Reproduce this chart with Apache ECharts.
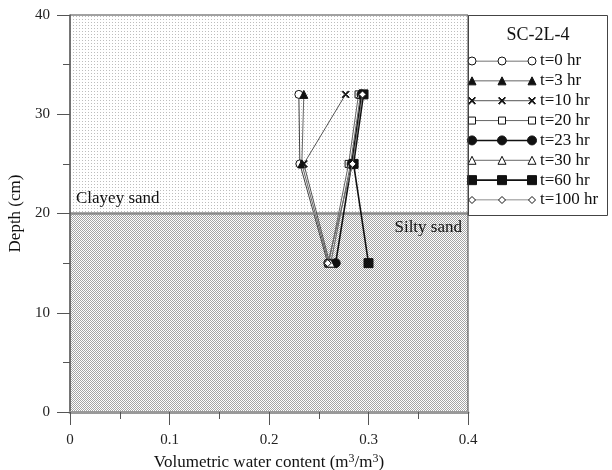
<!DOCTYPE html>
<html>
<head>
<meta charset="utf-8">
<script src="https://cdn.jsdelivr.net/npm/echarts@6/dist/echarts.min.js"></script>
<style>
html,body{margin:0;padding:0;background:#fff;}
#main{width:612px;height:470px;}
</style>
</head>
<body>
<div id="main"></div>
<script>
// 深度 (cm) 与各时刻含水量
var depth = [32, 25, 15];
var hours = ['t=0 hr', 't=3 hr', 't=10 hr', 't=20 hr', 't=23 hr', 't=30 hr', 't=60 hr', 't=100 hr'];
var wc_0   = [0.230, 0.231, 0.259];
var wc_3   = [0.235, 0.233, 0.260];
var wc_10  = [0.277, 0.235, 0.261];
var wc_20  = [0.290, 0.280, 0.260];
var wc_23  = [0.293, 0.283, 0.267];
var wc_30  = [0.292, 0.282, 0.262];
var wc_60  = [0.295, 0.285, 0.300];
var wc_100 = [0.294, 0.284, 0.259];
var wcAll = [wc_0, wc_3, wc_10, wc_20, wc_23, wc_30, wc_60, wc_100];

// 土层
var layerName = ['Clayey sand', 'Silty sand'];
var layerTop = [40, 20];
var layerBottom = [20, 0];

// 坐标范围
var xMin = 0, xMax = 0.4;
var yMin = 0, yMax = 40;

var sampleTitle = 'SC-2L-4';
var serif = '"Liberation Serif", "DejaVu Serif", serif';
var crossPath = 'path://M0,1 L1,0 L5,4 L9,0 L10,1 L6,5 L10,9 L9,10 L5,6 L1,10 L0,9 L4,5 Z';

// 符号样式
var marks = [
    {symbol: 'circle',   size: 8, fill: '#fff', line: '#444', lw: 1},
    {symbol: 'triangle', size: 8, fill: '#111', line: '#666', lw: 1},
    {symbol: crossPath,  size: 7, fill: '#111', line: '#555', lw: 1},
    {symbol: 'rect',     size: 7, fill: '#fff', line: '#666', lw: 1},
    {symbol: 'circle',   size: 9, fill: '#111', line: '#111', lw: 1.6},
    {symbol: 'triangle', size: 8, fill: '#fff', line: '#666', lw: 1},
    {symbol: 'rect',     size: 9, fill: '#111', line: '#111', lw: 1.6},
    {symbol: 'diamond',  size: 7, fill: '#fff', line: '#666', lw: 1}
];

function dotPattern(size, dots, color){
    var c = document.createElement('canvas');
    c.width = size; c.height = size;
    var g = c.getContext('2d');
    g.fillStyle = '#fff';
    g.fillRect(0, 0, size, size);
    g.fillStyle = color;
    for(var i=0;i<dots.length;i++){
        g.fillRect(dots[i][0], dots[i][1], 1, 1);
    }
    return c;
}
var patterns = [
    {image: dotPattern(3, [[1,1]], '#bdbdbd'), repeat: 'repeat'},
    {image: dotPattern(2, [[0,0],[1,1]], '#a5a5a5'), repeat: 'repeat'}
];

var seriesArr = [];
for(var i=0;i<hours.length;i++){
    var pts = [];
    for(var k=0;k<depth.length;k++){
        pts.push([wcAll[i][k], depth[k]]);
    }
    var m = marks[i];
    var s = {
        name: hours[i],
        type: 'line',
        xAxisIndex: 0,
        yAxisIndex: 0,
        data: pts,
        symbol: m.symbol,
        symbolSize: m.size,
        showAllSymbol: true,
        z: 3 + i,
        lineStyle: {color: m.line, width: m.lw},
        itemStyle: {color: m.fill, borderColor: '#111', borderWidth: 1}
    };
    if(i === 0){
        var areas = [];
        for(var j=0;j<layerName.length;j++){
            areas.push([
                {name: layerName[j], xAxis: xMin, yAxis: layerTop[j],
                 itemStyle: {color: patterns[j]},
                 label: {show: true, position: j === 0 ? 'insideBottomLeft' : 'insideTopRight',
                         color: '#111', fontFamily: serif, fontSize: 17, distance: 6}},
                {xAxis: xMax, yAxis: layerBottom[j]}
            ]);
        }
        s.markArea = {
            silent: true,
            z: 1,
            itemStyle: {opacity: 1},
            label: {show: true, formatter: '{b}'},
            data: areas
        };
        s.markLine = {
            silent: true,
            symbol: 'none',
            label: {show: false},
            lineStyle: {color: '#8a8a8a', width: 2.5, type: 'solid'},
            data: [{yAxis: layerBottom[0]}]
        };
    }
    seriesArr.push(s);
}

// 图例样本
for(var i=0;i<hours.length;i++){
    var m = marks[i];
    seriesArr.push({
        type: 'line',
        xAxisIndex: 1,
        yAxisIndex: 1,
        data: [[0, i], [1, i], [2, i]],
        symbol: m.symbol,
        symbolSize: m.size,
        lineStyle: {color: m.line, width: m.lw},
        itemStyle: {color: m.fill, borderColor: '#111', borderWidth: 1}
    });
}

var chart = echarts.init(document.getElementById('main'));
chart.setOption({
    animation: false,
    backgroundColor: '#fff',
    textStyle: {fontFamily: serif},
    grid: [
        {left: 70, top: 15, width: 398, height: 397, show: true, z: 10,
         outerBoundsMode: 'none', containLabel: false,
         borderColor: '#444', borderWidth: 1, backgroundColor: 'transparent'},
        {left: 472, top: 61, width: 60, height: 139, outerBoundsMode: 'none', containLabel: false}
    ],
    xAxis: [
        {
            type: 'value', gridIndex: 0, min: xMin, max: xMax, interval: 0.1, z: 10,
            name: 'Volumetric water content (m{sup|3}/m{sup|3})',
            nameLocation: 'middle', nameGap: 38,
            nameTextStyle: {
                color: '#111', fontSize: 17, fontFamily: serif,
                rich: {sup: {fontSize: 12, fontFamily: serif, color: '#111', padding: [0, 0, 7, 0]}}
            },
            axisLine: {show: true, lineStyle: {color: '#999', width: 3}},
            axisTick: {show: true, inside: false, length: 13, lineStyle: {color: '#555'}},
            minorTick: {show: true, splitNumber: 2, length: 7, lineStyle: {color: '#555'}},
            splitLine: {show: false},
            axisLabel: {color: '#222', fontSize: 15, fontFamily: serif, margin: 21}
        },
        {type: 'value', gridIndex: 1, min: 0, max: 2, show: false}
    ],
    yAxis: [
        {
            type: 'value', gridIndex: 0, min: yMin, max: yMax, interval: 10, z: 10,
            name: 'Depth (cm)',
            nameLocation: 'middle', nameGap: 31, nameRotate: 90,
            nameTextStyle: {color: '#111', fontSize: 17, fontFamily: serif},
            axisLine: {show: true, lineStyle: {color: '#666', width: 1.5}},
            axisTick: {show: true, inside: false, length: 13, lineStyle: {color: '#555'}},
            minorTick: {show: true, splitNumber: 2, length: 7, lineStyle: {color: '#555'}},
            splitLine: {show: false},
            axisLabel: {color: '#222', fontSize: 15, fontFamily: serif, margin: 20}
        },
        {
            type: 'category', gridIndex: 1, data: hours, inverse: true, boundaryGap: false,
            position: 'right',
            axisLine: {show: false}, axisTick: {show: false}, splitLine: {show: false},
            axisLabel: {interval: 0, color: '#111', fontSize: 17, fontFamily: serif, margin: 8, align: 'left'}
        }
    ],
    graphic: [
        {type: 'rect', z: -1, shape: {x: 468.5, y: 15.5, width: 139, height: 200},
         style: {fill: '#fff', stroke: '#444', lineWidth: 1}},
        {type: 'text', z: 5, x: 538, y: 35,
         style: {text: sampleTitle, fill: '#111', font: '18px ' + serif, align: 'center', verticalAlign: 'middle'}}
    ],
    series: seriesArr
});
</script>
</body>
</html>
